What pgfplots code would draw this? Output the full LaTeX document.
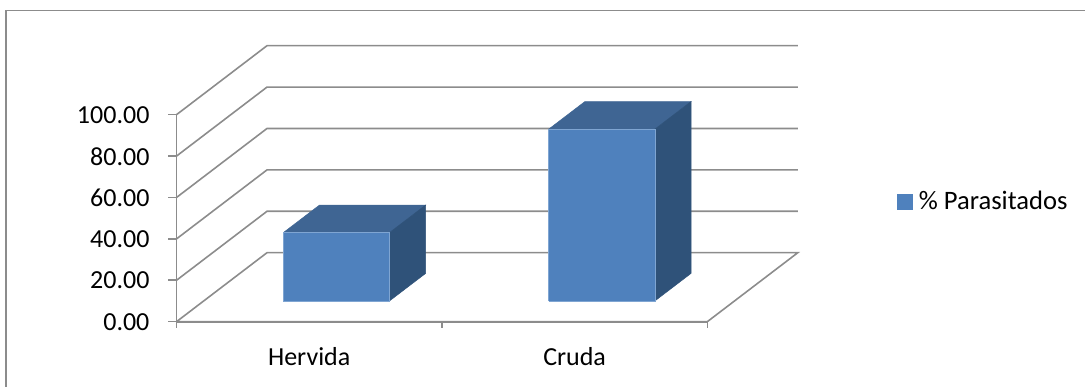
\documentclass[border=0pt]{standalone}
\usepackage{pgfplots}
\usepackage{fontspec}
\setmainfont{Carlito}
\pgfplotsset{compat=1.18}
\definecolor{gridgray}{HTML}{8C8C8C}
\definecolor{barfront}{HTML}{4F81BD}
\definecolor{barfrontedge}{HTML}{7FA5D2}
\definecolor{bartop}{HTML}{3F6593}
\definecolor{barside}{HTML}{2F5279}
\begin{document}
\begin{tikzpicture}[x=1pt,y=1pt]
\useasboundingbox (0,0) rectangle (1085,387);
% chart frame
\draw[gridgray,line width=1.5pt] (6,0) -- (6,376.5) -- (1085,376.5);
\begin{axis}[
  at={(176.5pt,65.3pt)},anchor=origin,
  x={(265.4pt,0pt)},y={(90.5pt,69pt)},z={(0pt,2.07pt)},
  xmin=0,xmax=2,ymin=0,ymax=1,zmin=0,zmax=100,
  clip=false,
  axis lines=none,
  font=\fontsize{26}{30}\selectfont,
  legend style={at={(1.160,0.436)},anchor=west,draw=none,fill=none,
    font=\fontsize{26.6}{30}\selectfont,inner sep=0pt,outer sep=0pt},
  legend image code/.code={\fill[barfront] (0pt,-7.5pt) rectangle (15pt,7.5pt); \path (19pt,0pt);},
]
% walls: gridlines running along the side wall and the back wall
\addplot3[gridgray,line width=1.6pt,forget plot] coordinates {(0,0,0) (0,1,0) (2,1,0) (2,0,0) (0,0,0)};
\addplot3[gridgray,line width=1.6pt,forget plot] coordinates {(0,0,20) (0,1,20) (2,1,20)};
\addplot3[gridgray,line width=1.6pt,forget plot] coordinates {(0,0,40) (0,1,40) (2,1,40)};
\addplot3[gridgray,line width=1.6pt,forget plot] coordinates {(0,0,60) (0,1,60) (2,1,60)};
\addplot3[gridgray,line width=1.6pt,forget plot] coordinates {(0,0,80) (0,1,80) (2,1,80)};
\addplot3[gridgray,line width=1.6pt,forget plot] coordinates {(0,0,100) (0,1,100) (2,1,100)};
% value axis and category axis with their ticks
\addplot3[gridgray,line width=1.8pt,forget plot] coordinates {(0,0,100) (0,0,0) (2,0,0)};
\addplot3[gridgray,line width=1.6pt,forget plot] coordinates {(-0.032,0,0) (0,0,0)};
\addplot3[gridgray,line width=1.6pt,forget plot] coordinates {(-0.032,0,20) (0,0,20)};
\addplot3[gridgray,line width=1.6pt,forget plot] coordinates {(-0.032,0,40) (0,0,40)};
\addplot3[gridgray,line width=1.6pt,forget plot] coordinates {(-0.032,0,60) (0,0,60)};
\addplot3[gridgray,line width=1.6pt,forget plot] coordinates {(-0.032,0,80) (0,0,80)};
\addplot3[gridgray,line width=1.6pt,forget plot] coordinates {(-0.032,0,100) (0,0,100)};
\addplot3[gridgray,line width=1.6pt,forget plot] coordinates {(0,0,0) (0,0,-3)};
\addplot3[gridgray,line width=1.6pt,forget plot] coordinates {(1,0,0) (1,0,-3)};
\addplot3[gridgray,line width=1.6pt,forget plot] coordinates {(2,0,0) (2,0,-3)};
% Hervida, value 33
\addplot3[draw=bartop,line width=0.5pt,fill=bartop,forget plot] coordinates {(0.3,0.3,33) (0.7,0.3,33) (0.7,0.7,33) (0.3,0.7,33) (0.3,0.3,33)};
\addplot3[draw=barside,line width=0.5pt,fill=barside,forget plot] coordinates {(0.7,0.3,0) (0.7,0.7,0) (0.7,0.7,33) (0.7,0.3,33) (0.7,0.3,0)};
\addplot3[draw=barfrontedge,line width=0.6pt,fill=barfront,forget plot] coordinates {(0.3,0.3,0) (0.7,0.3,0) (0.7,0.3,33) (0.3,0.3,33) (0.3,0.3,0)};
% Cruda, value 83
\addplot3[draw=bartop,line width=0.5pt,fill=bartop,forget plot] coordinates {(1.3,0.3,83) (1.7,0.3,83) (1.7,0.7,83) (1.3,0.7,83) (1.3,0.3,83)};
\addplot3[draw=barside,line width=0.5pt,fill=barside,forget plot] coordinates {(1.7,0.3,0) (1.7,0.7,0) (1.7,0.7,83) (1.7,0.3,83) (1.7,0.3,0)};
\addplot3[draw=barfrontedge,line width=0.6pt,fill=barfront] coordinates {(1.3,0.3,0) (1.7,0.3,0) (1.7,0.3,83) (1.3,0.3,83) (1.3,0.3,0)};
\addlegendentry{\% Parasitados}
% tick labels
\node[anchor=east,xshift=3pt,yshift=-0.3pt] at (axis cs:-0.1,0,0) {0.00};
\node[anchor=east,xshift=3pt,yshift=-0.3pt] at (axis cs:-0.1,0,20) {20.00};
\node[anchor=east,xshift=3pt,yshift=-0.3pt] at (axis cs:-0.1,0,40) {40.00};
\node[anchor=east,xshift=3pt,yshift=-0.3pt] at (axis cs:-0.1,0,60) {60.00};
\node[anchor=east,xshift=3pt,yshift=-0.3pt] at (axis cs:-0.1,0,80) {80.00};
\node[anchor=east,xshift=3pt,yshift=-0.3pt] at (axis cs:-0.1,0,100) {100.00};
\node at (axis cs:0.5,0,-17) {Hervida};
\node at (axis cs:1.5,0,-17) {Cruda};
\end{axis}
\end{tikzpicture}
\end{document}
